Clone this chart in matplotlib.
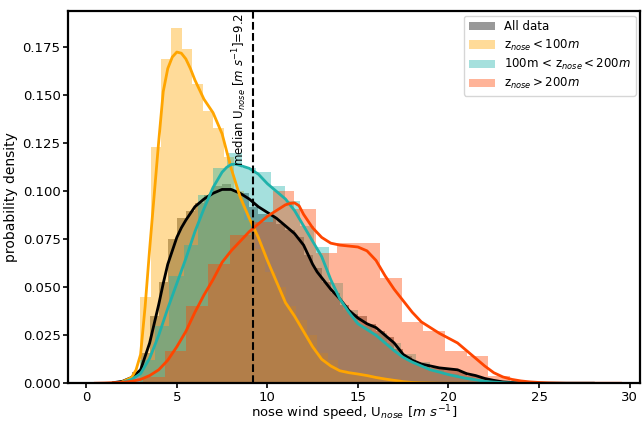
import numpy as np
import matplotlib
matplotlib.use("Agg")
from matplotlib import pyplot as plt
from matplotlib.patches import Patch

nan = np.nan

# histogram bins (start, width) and bar heights
all_start, all_width = 2.5, 0.5
all_hist = [0.006, 0.016, 0.035, 0.053, 0.075, 0.086, 0.090, 0.094, 0.098, 0.103,
            0.104, 0.100, 0.099, 0.092, 0.088, 0.087, 0.083, 0.080, 0.076, 0.067,
            0.060, 0.053, 0.047, 0.041, 0.036, 0.035, 0.031, 0.027, 0.024, 0.018,
            0.014, 0.011, 0.010, 0.008, 0.008, 0.007, 0.006, 0.004, 0.003, 0.002,
            0.001, 0.001]

low_start, low_width = 2.98, 0.575
low_hist = [0.045, 0.123, 0.169, 0.185, 0.174, 0.156, 0.142, 0.133, 0.118, 0.100,
            0.085, 0.070, 0.058, 0.050, 0.040, 0.033, 0.025, 0.016, 0.012, 0.007,
            0.005, 0.005, 0.004, 0.002, 0.002, 0.001]

mid_start, mid_width = 2.98, 0.8
mid_hist = [0.012, 0.030, 0.056, 0.072, 0.098, 0.112, 0.120, 0.112, 0.110, 0.103,
            0.095, 0.082, 0.071, 0.052, 0.038, 0.030, 0.026, 0.021, 0.015, 0.011,
            0.007, 0.005, 0.003, 0.002, 0.001]

high_start, high_width = 3.15, 1.19
high_hist = [0.003, 0.017, 0.040, 0.062, 0.077, 0.084, 0.100, 0.091, 0.068, 0.073,
             0.073, 0.055, 0.032, 0.027, 0.017, 0.014, 0.004]

# kde curves, sampled every 0.5 m/s from 0.5 to 29.5 (nan = outside the curve)
kde_x = np.arange(0.5, 29.75, 0.5)
all_kde = [nan, nan, 0.0003, 0.001, 0.003, 0.007, 0.021, 0.041, 0.062, 0.076,
           0.085, 0.092, 0.096, 0.099, 0.101, 0.101, 0.099, 0.096, 0.092, 0.089,
           0.086, 0.082, 0.078, 0.072, 0.062, 0.055, 0.049, 0.044, 0.038, 0.034,
           0.031, 0.029, 0.025, 0.021, 0.015, 0.012, 0.010, 0.009, 0.008, 0.0075,
           0.007, 0.005, 0.004, 0.0025, 0.0015, 0.0007, 0.0004, 0.0002, 0.0001, 0,
           0, 0, 0, 0, 0, 0, nan, nan, nan]
low_kde = [nan, nan, nan, 0.0008, 0.003, 0.015, 0.070, 0.126, 0.164, 0.1726,
           0.169, 0.158, 0.148, 0.141, 0.130, 0.112, 0.097, 0.086, 0.076, 0.064,
           0.053, 0.042, 0.035, 0.027, 0.019, 0.0125, 0.009, 0.0065, 0.0055, 0.0048,
           0.004, 0.003, 0.0022, 0.0015, 0.0008, 0.0004, 0.0002, 0.0001, 0, 0,
           0, 0, nan, nan, nan, nan, nan, nan, nan, nan,
           nan, nan, nan, nan, nan, nan, nan, nan, nan]
mid_kde = [nan, nan, nan, 0.0005, 0.002, 0.005, 0.013, 0.025, 0.039, 0.052,
           0.065, 0.079, 0.091, 0.102, 0.110, 0.114, 0.1135, 0.112, 0.109, 0.104,
           0.100, 0.096, 0.090, 0.082, 0.074, 0.066, 0.054, 0.044, 0.037, 0.031,
           0.028, 0.025, 0.021, 0.017, 0.0135, 0.011, 0.009, 0.007, 0.0058, 0.0045,
           0.0035, 0.0025, 0.0018, 0.001, 0.0006, 0.0003, 0.0001, 0, 0, 0,
           nan, nan, nan, nan, nan, nan, nan, nan, nan]
high_kde = [0, 0.0001, 0.0003, 0.0005, 0.001, 0.002, 0.004, 0.007, 0.012, 0.019,
            0.027, 0.037, 0.046, 0.054, 0.063, 0.069, 0.074, 0.079, 0.083, 0.087,
            0.090, 0.093, 0.094, 0.088, 0.081, 0.076, 0.073, 0.072, 0.0715, 0.071,
            0.069, 0.064, 0.056, 0.049, 0.043, 0.037, 0.032, 0.029, 0.026, 0.0235,
            0.021, 0.017, 0.013, 0.009, 0.0055, 0.0033, 0.002, 0.0012, 0.0007, 0.0004,
            0.0002, 0.0001, 0, 0, 0, 0, 0, 0, 0]

# extra readings where the curves bend sharply
all_extra_x = [3.75, 4.25, 4.75, 5.25, 11.75, 12.25, 12.75]
all_extra = [0.031, 0.052, 0.069, 0.081, 0.075, 0.067, 0.058]
low_extra_x = [2.75, 3.25, 3.75, 4.25, 4.75, 5.25, 5.75]
low_extra = [0.007, 0.040, 0.098, 0.152, 0.170, 0.172, 0.164]
mid_extra_x = [7.75, 8.25, 12.75, 13.25, 13.75]
mid_extra = [0.1125, 0.1142, 0.070, 0.060, 0.049]
high_extra_x = [11.25, 11.75, 12.25, 15.75, 16.25]
high_extra = [0.0937, 0.0925, 0.0845, 0.0665, 0.060]

median_u = 9.2

series = [
    ("All data", "black", all_start, all_width, all_hist, all_kde, all_extra_x, all_extra),
    (r"z$_{nose} < 100m$", "orange", low_start, low_width, low_hist, low_kde,
     low_extra_x, low_extra),
    (r"100m < z$_{nose} < 200m$", "lightseagreen", mid_start, mid_width, mid_hist, mid_kde,
     mid_extra_x, mid_extra),
    (r"z$_{nose} > 200m$", "orangered", high_start, high_width, high_hist, high_kde,
     high_extra_x, high_extra),
]

fig = plt.figure(figsize=(6.43, 4.23), dpi=100)
ax = fig.add_axes([0.106, 0.094, 0.89, 0.880])

handles = []
for label, color, start, width, hist, kde, ex, ey in series:
    edges = start + width * np.arange(len(hist) + 1)
    ax.stairs(hist, edges, fill=True, color=color, alpha=0.4, linewidth=0)
    xs = np.concatenate([kde_x, ex])
    ys = np.concatenate([kde, ey])
    order = np.argsort(xs)
    ax.plot(xs[order], ys[order], color=color, lw=2)
    handles.append(Patch(facecolor=color, alpha=0.4, label=label))

ax.axvline(median_u, color="black", ls="--", lw=1.5)
ax.text(median_u - 0.2, 0.1925, r"median U$_{nose}$ [$m\ s^{-1}$]=" + str(median_u),
        rotation=90, ha="right", va="top", fontsize=8.5)

ax.set_xlim(-1.0, 30.6)
ax.set_ylim(0, 0.194)
yt = [0, 0.025, 0.05, 0.075, 0.1, 0.125, 0.15, 0.175]
ax.set_yticks(yt)
ax.set_yticklabels(["%.3f" % v for v in yt])
ax.tick_params(labelsize=9.5, width=1.2, pad=2)
for s in ax.spines.values():
    s.set_linewidth(1.6)

ax.set_xlabel(r"nose wind speed, U$_{nose}$ [$m\ s^{-1}$]", fontsize=9.5, labelpad=0)
ax.set_ylabel("probability density", fontsize=10, labelpad=3)
ax.legend(handles=handles, loc="upper right", fontsize=8.5, handlelength=2.2,
          labelspacing=0.35, borderaxespad=0.4)

fig.savefig("out.png", dpi=100)
